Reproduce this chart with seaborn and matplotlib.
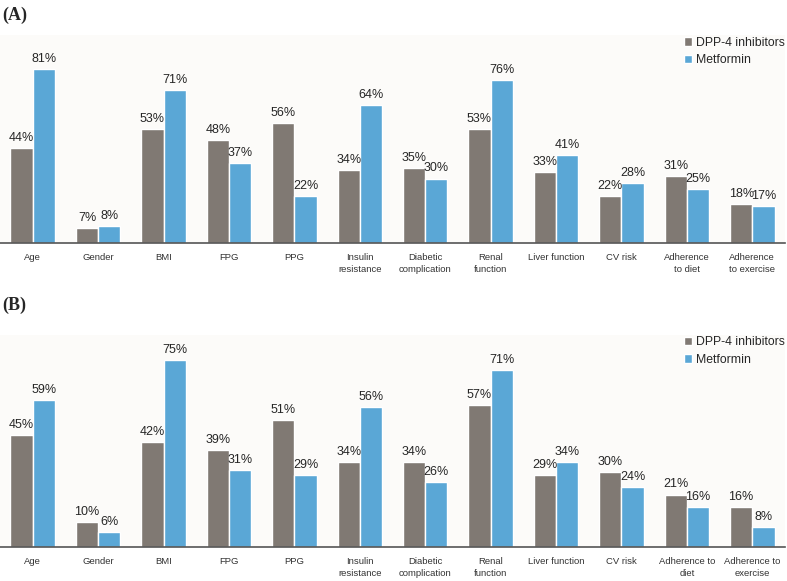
import matplotlib
matplotlib.use('Agg')
import matplotlib.pyplot as plt
import pandas as pd
import seaborn as sb

cats_a = ['Age', 'Gender', 'BMI', 'FPG', 'PPG', 'Insulin\nresistance', 'Diabetic\ncomplication',
          'Renal\nfunction', 'Liver function', 'CV risk', 'Adherence\nto diet', 'Adherence\nto exercise']
cats_b = ['Age', 'Gender', 'BMI', 'FPG', 'PPG', 'Insulin\nresistance', 'Diabetic\ncomplication',
          'Renal\nfunction', 'Liver function', 'CV risk', 'Adherence to\ndiet', 'Adherence to\nexercise']
dpp4_a = [44, 7, 53, 48, 56, 34, 35, 53, 33, 22, 31, 18]
metf_a = [81, 8, 71, 37, 22, 64, 30, 76, 41, 28, 25, 17]
dpp4_b = [45, 10, 42, 39, 51, 34, 34, 57, 29, 30, 21, 16]
metf_b = [59, 6, 75, 31, 29, 56, 26, 71, 34, 24, 16, 8]
groups = ['DPP-4 inhibitors', 'Metformin']
colors = ['#807973', '#5aa7d6']

sb.set_style('white')
plt.rcParams['font.family'] = ['Liberation Sans', 'DejaVu Sans']

W, H = 787, 581
fig = plt.figure(figsize=(W / 100, H / 100), dpi=100)


def panel(cats, d1, d2, box, ymax, tag, tag_y):
    df = pd.DataFrame({'cat': cats * 2, 'val': d1 + d2,
                       'grp': [groups[0]] * len(cats) + [groups[1]] * len(cats)})
    x0, y0, x1, y1 = box
    ax = fig.add_axes([x0 / W, 1 - y1 / H, (x1 - x0) / W, (y1 - y0) / H])
    ax.set_facecolor('#fcfbf9')
    sb.barplot(x='cat', y='val', hue='grp', data=df, palette=colors, width=0.68,
               gap=0, ax=ax, saturation=1, errorbar=None)
    for c in ax.containers:
        ax.bar_label(c, labels=[f'{int(v)}%' for v in c.datavalues], padding=3,
                     fontsize=9, color='#262626')
    ax.set_xlim(-0.5, 11.5)
    ax.set_ylim(0, ymax)
    ax.set_xlabel('')
    ax.set_ylabel('')
    ax.set_yticks([])
    ax.tick_params(axis='x', length=0, labelsize=6.8, colors='#333333', pad=7)
    for lab in ax.get_xticklabels():
        lab.set_linespacing(1.45)
    for s in ['top', 'right', 'left']:
        ax.spines[s].set_visible(False)
    ax.spines['bottom'].set_color('#555555')
    ax.spines['bottom'].set_linewidth(1.2)
    ax.legend(loc='upper right', bbox_to_anchor=(1.014, 1.045), frameon=False, fontsize=8.8,
              handlelength=0.7, handleheight=0.7, handletextpad=0.3, labelspacing=0.45)
    fig.text(2 / W, 1 - tag_y / H, tag, fontsize=13, fontweight='bold',
             family='Liberation Serif', va='center', ha='left')
    return ax


panel(cats_a, dpp4_a, metf_a, (0, 35, 785, 243), 96.8, '(A)', 15)
panel(cats_b, dpp4_b, metf_b, (0, 335, 785, 547), 85, '(B)', 305)

fig.savefig('out.png', dpi=100)
